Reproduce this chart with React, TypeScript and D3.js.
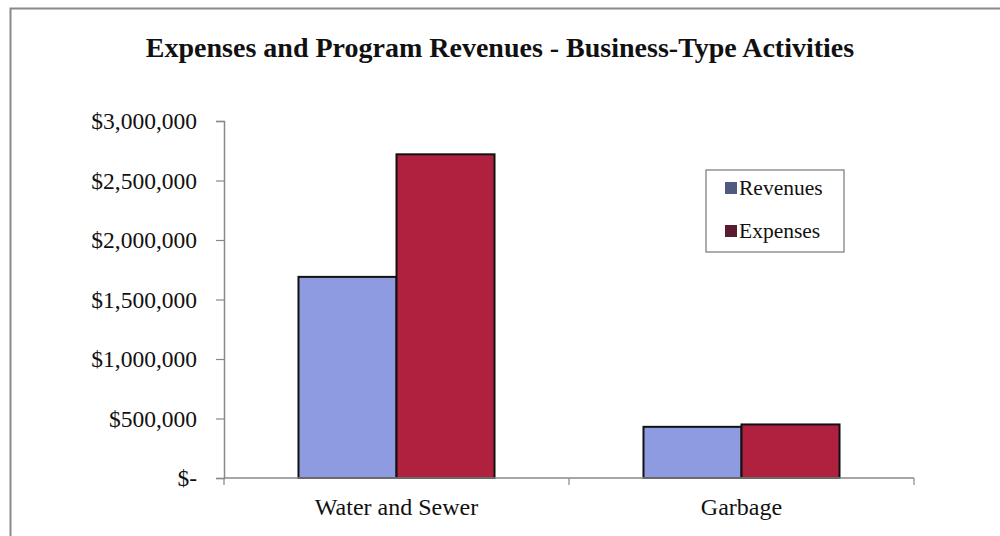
import { useEffect, useRef } from 'react'
import * as d3 from 'd3'

const categories = ['Water and Sewer', 'Garbage']
const seriesNames = ['Revenues', 'Expenses']
const revenues = [1690000, 430000]
const expenses = [2720000, 450000]
const yTicks = [0, 500000, 1000000, 1500000, 2000000, 2500000, 3000000]

const barColors = ['#8e9be0', '#b0203f']
const legendColors = ['#4e5a80', '#5a1a30']

const serif = '"Liberation Serif", "Times New Roman", serif'

function App() {
    const ref = useRef<SVGSVGElement>(null)

    useEffect(() => {
        const width = 1000
        const height = 536
        const margin = { top: 121, right: 86, bottom: 58, left: 224 }
        const innerW = width - margin.left - margin.right
        const innerH = height - margin.top - margin.bottom

        const svg = d3.select(ref.current)
        svg.selectAll('*').remove()

        svg.append('rect')
            .attr('width', width)
            .attr('height', height)
            .attr('fill', '#fff')

        // frame of the scanned chart: left and top edges only
        svg.append('path')
            .attr('d', `M10.5,${height} V8.5 H${width}`)
            .attr('fill', 'none')
            .attr('stroke', '#8a8a8a')
            .attr('stroke-width', 2)

        svg.append('text')
            .attr('x', 500)
            .attr('y', 57)
            .attr('text-anchor', 'middle')
            .style('font-family', serif)
            .style('font-weight', 'bold')
            .style('font-size', '28px')
            .attr('fill', '#111')
            .text('Expenses and Program Revenues - Business-Type Activities')

        const g = svg.append('g')
            .attr('transform', `translate(${margin.left}, ${margin.top})`)

        const x0 = d3.scaleBand()
            .domain(categories)
            .range([0, innerW])
            .paddingInner(0)
            .paddingOuter(0)

        const x1 = d3.scaleBand()
            .domain(seriesNames)
            .range([0, x0.bandwidth()])
            .paddingOuter(0.76)
            .paddingInner(0)

        const y = d3.scaleLinear()
            .domain([0, 3000000])
            .range([innerH, 0])

        const fmt = (v: number) => (v === 0 ? '$-' : '$' + d3.format(',')(v))

        // y axis
        const yAxis = g.append('g')
            .call(d3.axisLeft(y).tickValues(yTicks).tickFormat((d) => fmt(+d)).tickSize(8).tickPadding(19))
        yAxis.select('.domain').attr('stroke', '#888').attr('stroke-width', 1.5)
        yAxis.selectAll('.tick line').attr('stroke', '#888').attr('stroke-width', 1.2)
        yAxis.selectAll('.tick text')
            .style('font-family', serif)
            .style('font-size', '23.5px')
            .attr('fill', '#111')

        const rows = categories.map((c, i) => ({ category: c, values: [revenues[i], expenses[i]] }))

        rows.forEach((row) => {
            row.values.forEach((v, j) => {
                g.append('rect')
                    .attr('x', (x0(row.category) as number) + (x1(seriesNames[j]) as number))
                    .attr('y', y(v))
                    .attr('width', x1.bandwidth())
                    .attr('height', innerH - y(v))
                    .attr('fill', barColors[j])
                    .attr('stroke', '#111')
                    .attr('stroke-width', 2)
            })
        })

        // x axis with ticks at category boundaries
        g.append('line')
            .attr('x1', 0)
            .attr('x2', innerW)
            .attr('y1', innerH)
            .attr('y2', innerH)
            .attr('stroke', '#888')
            .attr('stroke-width', 1.5)

        const boundaries = [0, ...categories.map((c) => (x0(c) as number) + x0.bandwidth())]
        g.selectAll('.xtick')
            .data(boundaries)
            .enter()
            .append('line')
            .attr('x1', (d) => d)
            .attr('x2', (d) => d)
            .attr('y1', innerH)
            .attr('y2', innerH + 7)
            .attr('stroke', '#888')
            .attr('stroke-width', 1.2)

        g.selectAll('.xlabel')
            .data(categories)
            .enter()
            .append('text')
            .attr('x', (d) => (x0(d) as number) + x0.bandwidth() / 2)
            .attr('y', innerH + 37)
            .attr('text-anchor', 'middle')
            .style('font-family', serif)
            .style('font-size', '24px')
            .attr('fill', '#111')
            .text((d) => d)

        // legend
        const legend = svg.append('g').attr('transform', 'translate(706, 170)')
        legend.append('rect')
            .attr('width', 138)
            .attr('height', 82)
            .attr('fill', '#fff')
            .attr('stroke', '#777')
            .attr('stroke-width', 1.2)

        seriesNames.forEach((name, i) => {
            legend.append('rect')
                .attr('x', 19)
                .attr('y', 12 + i * 43)
                .attr('width', 12)
                .attr('height', 12)
                .attr('fill', legendColors[i])
            legend.append('text')
                .attr('x', 33)
                .attr('y', 25 + i * 43)
                .style('font-family', serif)
                .style('font-size', '21.5px')
                .attr('fill', '#111')
                .text(name)
        })
    }, [])

    return (
        <svg ref={ref} width={1000} height={536} style={{ display: 'block', position: 'absolute', left: 0, top: 0 }} />
    )
}

export default App
